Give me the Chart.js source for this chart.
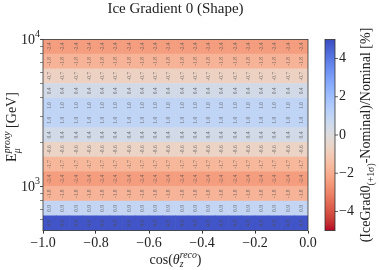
<!DOCTYPE html>
<html>
<head>
<meta charset="utf-8">
<script src="https://cdn.jsdelivr.net/npm/chart.js@4.4.1/dist/chart.umd.min.js"></script>
<style>
  html, body { margin: 0; padding: 0; background: #fff; }
  #wrap { width: 379px; height: 270px; }
</style>
</head>
<body>
<div id="wrap"><canvas id="c"></canvas></div>
<script>
// Bin edges and values
const cosBinEdges = [-1.0, -0.95, -0.9, -0.85, -0.8, -0.75, -0.7, -0.65, -0.6, -0.55, -0.5,
                     -0.45, -0.4, -0.35, -0.3, -0.25, -0.2, -0.15, -0.1, -0.05, 0.0];
const logEnergyEdges = [2.7, 2.8, 2.9, 3.0, 3.1, 3.2, 3.3, 3.4, 3.5, 3.6, 3.7, 3.8, 3.9, 4.0];
// one value per energy row (bottom to top), every cos bin in a row reads the same
const rowValues = [4.8, 0.9, -1.8, -2.4, -1.7, -0.6, 0.4, 1.0, 1.0, 0.4, -0.7, -1.8, -2.4];
const xTicks = [-1.0, -0.8, -0.6, -0.4, -0.2, 0.0];
const yMajorTicks = [1000, 10000];
const yMinorTicks = [600, 700, 800, 900, 2000, 3000, 4000, 5000, 6000, 7000, 8000, 9000];
const cbTicks = [-4, -2, 0, 2, 4];
const cbMin = -5, cbMax = 5;

const FONT = "'Liberation Serif', 'DejaVu Serif', serif";
const INK = '#222';

// matplotlib coolwarm (Moreland), 33 stops
const COOLWARM = [
  [59,76,192],[68,90,204],[77,104,215],[87,117,225],[98,130,234],[108,142,241],[119,154,247],
  [130,165,251],[141,176,254],[152,185,255],[163,194,255],[174,201,253],[184,208,249],
  [194,213,244],[204,217,238],[213,219,230],[221,221,221],[229,216,209],[236,211,197],
  [241,204,185],[245,196,173],[247,187,160],[247,177,148],[247,166,135],[244,154,123],
  [241,141,111],[236,127,99],[229,112,88],[222,96,77],[213,80,66],[203,62,56],[192,40,47],[180,4,38]
];

function coolwarm(t) {
  t = Math.min(1, Math.max(0, t));
  const f = t * (COOLWARM.length - 1);
  const i = Math.min(COOLWARM.length - 2, Math.floor(f));
  const k = f - i;
  const a = COOLWARM[i], b = COOLWARM[i + 1];
  return 'rgb(' + a.map((v, j) => Math.round(v + (b[j] - v) * k)).join(',') + ')';
}

// reversed: positive = blue, negative = red
function colorFor(v) {
  return coolwarm(1 - (v - cbMin) / (cbMax - cbMin));
}

const minus = s => String(s).replace('-', '\u2212');

const cosLabels = cosBinEdges.slice(0, -1).map((e, i) => ((e + cosBinEdges[i + 1]) / 2).toFixed(3));

const datasets = rowValues.map((v, r) => {
  const lo = Math.pow(10, logEnergyEdges[r]);
  const hi = Math.pow(10, logEnergyEdges[r + 1]);
  return {
    label: v.toFixed(1),
    data: cosLabels.map(() => [lo, hi]),
    backgroundColor: colorFor(v),
    borderWidth: 0,
    barPercentage: 1.0,
    categoryPercentage: 1.0,
    grouped: false,
    xAxisID: 'xc',
    yAxisID: 'y'
  };
});

// draws text made of runs (sub/superscripts), centred at cx,cy
function drawRich(ctx, runs, cx, cy, rot, size, color) {
  ctx.save();
  ctx.translate(cx, cy);
  ctx.rotate(rot);
  ctx.fillStyle = color;
  ctx.textBaseline = 'alphabetic';
  ctx.textAlign = 'left';
  let x = 0, prevStart = 0;
  const placed = runs.map(r => {
    const fs = size * (r.s || 1);
    const font = (r.it ? 'italic ' : '') + fs + 'px ' + FONT;
    ctx.font = font;
    const w = ctx.measureText(r.t).width;
    const start = r.stack ? prevStart : x;
    x = r.stack ? Math.max(x, start + w) : start + w;
    prevStart = start;
    return { t: r.t, font, start, dy: (r.dy || 0) * size };
  });
  const off = -x / 2;
  placed.forEach(p => {
    ctx.font = p.font;
    ctx.fillText(p.t, off + p.start, size * 0.35 + p.dy);
  });
  ctx.restore();
}

const cellText = {
  id: 'cellText',
  afterDatasetsDraw(chart) {
    const ctx = chart.ctx;
    ctx.save();
    ctx.font = '5.5px ' + FONT;
    ctx.fillStyle = 'rgba(80,80,80,0.75)';
    ctx.textAlign = 'center';
    ctx.textBaseline = 'middle';
    chart.data.datasets.forEach((ds, i) => {
      chart.getDatasetMeta(i).data.forEach(el => {
        const p = el.getProps(['x', 'y', 'base'], true);
        ctx.save();
        ctx.translate(p.x, (p.y + p.base) / 2);
        ctx.rotate(-Math.PI / 2);
        ctx.fillText(ds.label, 0, 0);
        ctx.restore();
      });
    });
    ctx.restore();
  }
};

const decorations = {
  id: 'decorations',
  afterDraw(chart) {
    const ctx = chart.ctx;
    const area = chart.chartArea;
    const cb = chart.scales.cb;
    const ys = chart.scales.y;

    // plot frame
    ctx.save();
    ctx.strokeStyle = '#333';
    ctx.lineWidth = 0.8;
    ctx.strokeRect(area.left, area.top, area.right - area.left, area.bottom - area.top);

    // colour bar
    const x0 = cb.left + 17, x1 = cb.left + 27;
    const yTop = cb.getPixelForValue(cbMax), yBot = cb.getPixelForValue(cbMin);
    const grad = ctx.createLinearGradient(0, yTop, 0, yBot);
    for (let i = 0; i <= 32; i++) grad.addColorStop(i / 32, coolwarm(i / 32));
    ctx.fillStyle = grad;
    ctx.fillRect(x0, yTop, x1 - x0, yBot - yTop);
    ctx.strokeRect(x0, yTop, x1 - x0, yBot - yTop);
    ctx.beginPath();
    cbTicks.forEach(t => {
      const y = cb.getPixelForValue(t);
      ctx.moveTo(x1, y);
      ctx.lineTo(x1 + 3, y);
    });
    ctx.stroke();

    // log y tick labels 10^n
    ctx.fillStyle = INK;
    ctx.textBaseline = 'middle';
    ctx.textAlign = 'right';
    yMajorTicks.forEach(v => {
      const y = ys.getPixelForValue(v);
      const exp = String(Math.round(Math.log10(v)));
      ctx.font = '10px ' + FONT;
      const we = ctx.measureText(exp).width;
      ctx.fillText(exp, 40, y - 5);
      ctx.font = '14px ' + FONT;
      ctx.fillText('10', 40 - we, y + 1);
    });
    ctx.restore();

    const midX = (area.left + area.right) / 2;
    const midY = (area.top + area.bottom) / 2;

    // title
    drawRich(ctx, [{ t: 'Ice Gradient 0 (Shape)' }], midX, 8, 0, 15, INK);
    // x title
    drawRich(ctx, [
      { t: 'cos(' }, { t: 'θ', it: true },
      { t: 'reco', s: 0.7, it: true, dy: -0.45 },
      { t: 'z', s: 0.7, it: true, dy: 0.25, stack: true },
      { t: ')' }
    ], midX, 259, 0, 14, INK);
    // y title
    drawRich(ctx, [
      { t: 'E' },
      { t: 'proxy', s: 0.7, it: true, dy: -0.45 },
      { t: 'μ', s: 0.7, it: true, dy: 0.3, stack: true },
      { t: ' [GeV]' }
    ], 11, midY - 8, -Math.PI / 2, 14, INK);
    // colour bar title
    drawRich(ctx, [
      { t: '(IceGrad0' },
      { t: '(+1σ)', s: 0.7, dy: 0.3 },
      { t: '-Nominal)/Nominal [%]' }
    ], 365, midY, -Math.PI / 2, 14, INK);
  }
};

new Chart(document.getElementById('c'), {
  type: 'bar',
  data: { labels: cosLabels, datasets: datasets },
  options: {
    responsive: true,
    maintainAspectRatio: false,
    animation: false,
    layout: { padding: { top: 18, left: 0, right: 0, bottom: 0 } },
    plugins: {
      legend: { display: false },
      tooltip: { enabled: false },
      title: { display: false }
    },
    scales: {
      xc: { type: 'category', display: false, offset: true },
      x: {
        type: 'linear',
        position: 'bottom',
        offset: false,
        min: -1, max: 0,
        afterBuildTicks: s => { s.ticks = xTicks.map(v => ({ value: v })); },
        afterFit: s => { s.height = 37; },
        ticks: {
          color: INK,
          font: { family: FONT, size: 14 },
          padding: 1,
          maxRotation: 0,
          autoSkip: false,
          callback: v => minus(Number(v).toFixed(1))
        },
        grid: { drawOnChartArea: false, offset: false, tickLength: 3, color: '#333' },
        border: { display: false }
      },
      y: {
        type: 'logarithmic',
        offset: false,
        min: Math.pow(10, logEnergyEdges[0]),
        max: Math.pow(10, logEnergyEdges[logEnergyEdges.length - 1]),
        afterBuildTicks: s => {
          s.ticks = yMinorTicks.concat(yMajorTicks).sort((a, b) => a - b).map(v => ({ value: v }));
        },
        afterFit: s => { s.width = 43; },
        ticks: { autoSkip: false, callback: () => '' },
        grid: {
          drawOnChartArea: false,
          tickLength: 3,
          color: '#333',
          tickWidth: c => (yMajorTicks.includes(c.tick.value) ? 0.9 : 0.6)
        },
        border: { display: false }
      },
      cb: {
        type: 'linear',
        axis: 'y',
        position: 'right',
        offset: false,
        min: cbMin, max: cbMax,
        afterBuildTicks: s => { s.ticks = cbTicks.map(v => ({ value: v })); },
        afterFit: s => { s.width = 71; },
        ticks: {
          color: INK,
          font: { family: FONT, size: 14 },
          padding: 31,
          callback: v => minus(v)
        },
        grid: { display: false, drawTicks: false },
        border: { display: false }
      }
    }
  },
  plugins: [cellText, decorations]
});
</script>
</body>
</html>
